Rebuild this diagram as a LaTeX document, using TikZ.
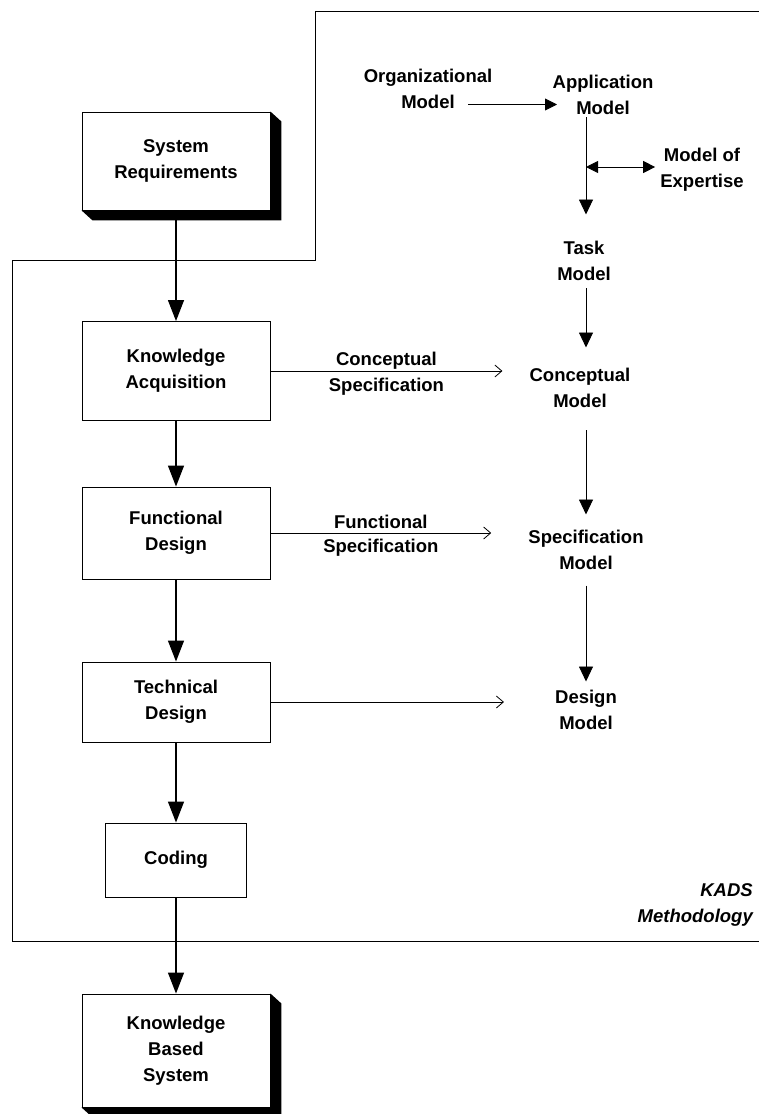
\documentclass[tikz,border=0pt]{standalone}
\usepackage{fontspec}
\setmainfont{Liberation Sans}
\usetikzlibrary{arrows.meta,calc}

% solid black extrusion on the right and lower side of a box node
\newcommand\boxdepth[1]{%
  \fill (#1.north east) -- ++(11,10)
    -- ([shift={(11,10)}]#1.south east)
    -- ([shift={(11,10)}]#1.south west)
    -- (#1.south west) -- (#1.south east) -- cycle;}

\begin{document}
\begin{tikzpicture}[x=1pt,y=-1pt,
  every node/.style={font=\fontsize{18.5}{26}\selectfont\bfseries, align=center, inner sep=0pt},
  stage/.style={draw, line width=0.9pt, fill=white, minimum width=188pt},
  flow/.style={line width=1.3pt, -{Triangle[length=21pt,width=16pt]}},
  link/.style={line width=0.9pt, -{Triangle[length=15pt,width=14pt]}},
  smallhead/.style={line width=0.9pt, -{Triangle[length=12pt,width=12pt]}},
  bothheads/.style={line width=0.9pt, {Triangle[length=12pt,width=12pt]}-{Triangle[length=12pt,width=12pt]}},
  feed/.style={line width=0.8pt, -{Straight Barb[length=7pt,width=12pt]}},
  frame/.style={line width=0.8pt}]

\useasboundingbox (0,0) rectangle (759,1114);

% boundary of the KADS part
\draw[frame] (759,11) -- (315,11) -- (315,260) -- (12,260) -- (12,941) -- (759,941);

% development stages
\node[stage, minimum height=98pt] (sr) at (176,161) {System\\Requirements};
\node[stage, minimum height=99pt] (ka) at (176,371) {Knowledge\\Acquisition};
\node[stage, minimum height=92pt] (fd) at (176,533) {Functional\\Design};
\node[stage, minimum height=80pt] (td) at (176,702) {Technical\\Design};
\node[stage, minimum width=141pt, minimum height=74pt] (cod) at (176,860) {Coding};
\node[stage, minimum width=188pt, minimum height=113pt] (kbs) at (176,1050.5) {Knowledge\\Based\\System};
\boxdepth{sr}
\boxdepth{kbs}

% KADS models
\node (org)  at (428,89)    {Organizational\\Model};
\node (app)  at (603,94.5)  {Application\\Model};
\node (moe)  at (702,169.5) {Model of\\Expertise};
\node (task) at (584,260.5) {Task\\Model};
\node (cm)   at (580,387.5) {Conceptual\\Model};
\node (sm)   at (586,549.5) {Specification\\Model};
\node (dm)   at (586,709.5) {Design\\Model};
\node[font=\fontsize{18.5}{26}\selectfont\bfseries\itshape, align=right, anchor=east] (kads) at (753,905) {KADS\\Methodology};

\coordinate (col) at (586,0);

% stage flow
\draw[flow] (sr.south) -- (ka.north);
\draw[flow] (ka.south) -- (fd.north);
\draw[flow] (fd.south) -- (td.north);
\draw[flow] (td.south) -- (cod.north);
\draw[flow] (cod.south) -- (kbs.north);

% model chain
\draw[smallhead] ($(org.south)+(40,-4.5)$) -- ($(app.south)+(-46,-10)$);
\draw[link] ($(app.south -| col)+(0,3)$) -- ($(task.north -| col)+(0,-26)$);
\draw[bothheads] ($(moe.west -| col)+(0,-2.5)$) -- ($(moe.west)+(-5,-2.5)$);
\draw[link] ($(task.south -| col)+(0,8)$) -- ($(cm.north -| col)+(0,-20)$);
\draw[link] ($(cm.south -| col)+(0,23)$) -- ($(sm.north -| col)+(0,-15)$);
\draw[link] ($(sm.south -| col)+(0,16)$) -- ($(dm.north -| col)+(0,-8)$);

% stage outputs
\draw[feed] (ka.east) -- ($(ka.east -| cm.west)+(-27,0)$)
  node[pos=.5, anchor=base, yshift=6pt] (kalab1) {Conceptual}
  node[pos=.5, anchor=base, yshift=-20pt] (kalab2) {Specification};
\draw[feed] (fd.east) -- ($(fd.east -| sm.west)+(-37,0)$)
  node[pos=.5, anchor=base, yshift=5pt] (fdlab1) {Functional}
  node[pos=.5, anchor=base, yshift=-19pt] (fdlab2) {Specification};
\draw[feed] (td.east) -- ($(td.east -| dm.west)+(-51,0)$);

\end{tikzpicture}
\end{document}
